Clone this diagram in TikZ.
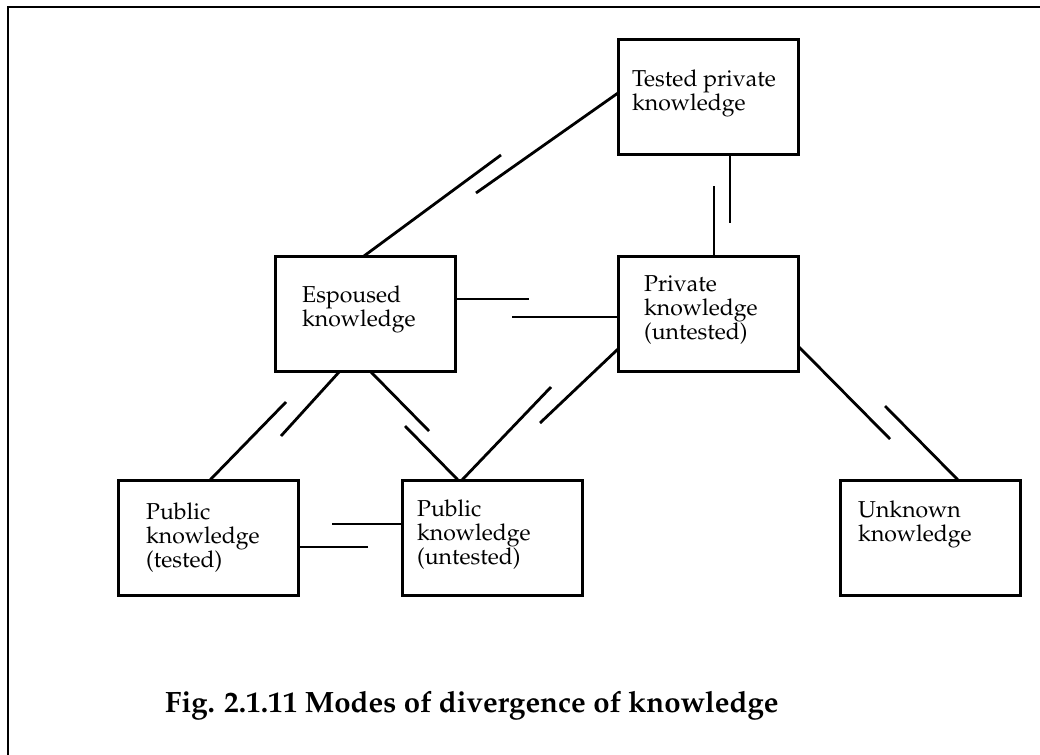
\documentclass[tikz,border=0pt]{standalone}
\usepackage[T1]{fontenc}
\renewcommand{\rmdefault}{ppl}
\begin{document}
\begin{tikzpicture}[x=1pt,y=-1pt,
  box/.style={draw,line width=3pt,rectangle,inner sep=0pt,outer sep=0pt,
    minimum width=180pt,minimum height=115pt,anchor=north west},
  txt/.style={anchor=base west,align=left,inner sep=0pt,
    font=\fontsize{23}{24}\selectfont},
  link/.style={line width=2.8pt},
  frame/.style={line width=2.2pt}]
\useasboundingbox (0,0) rectangle (1040,754);
\fill[white] (0,0) rectangle (1040,754);

% outer frame, open to the right and bottom
\coordinate (fb) at (8,760);
\coordinate (fc) at (8,7);
\coordinate (fr) at (1046,7);
\draw[frame] (fb) -- (fc) -- (fr);

% boxes
\node[box] (tp)   at (618,40)  {};
\node[box] (esp)  at (275,256) {};
\node[box] (pri)  at (618,256) {};
\node[box] (pubt) at (118,480) {};
\node[box] (pubu) at (402,480) {};
\node[box] (unk)  at (840,480) {};

% box texts (anchored at the baseline of the last line)
\node[txt] (tpt)   at (632,111) {Tested private\\knowledge};
\node[txt] (espt)  at (302,326) {Espoused\\knowledge};
\node[txt] (prit)  at (644,339) {Private\\knowledge\\(untested)};
\node[txt] (pubtt) at (146,567) {Public\\knowledge\\(tested)};
\node[txt] (pubut) at (417,564) {Public\\knowledge\\(untested)};
\node[txt] (unkt)  at (858,541) {Unknown\\knowledge};

% break points of the split connectors
\coordinate (c1a) at (476,193); \coordinate (c1b) at (501,155);
\coordinate (c2a) at (730,223); \coordinate (c2b) at (714,186);
\coordinate (c3a) at (529,299); \coordinate (c3b) at (512,317);
\coordinate (c4a) at (281,436); \coordinate (c4b) at (286,402);
\coordinate (c5a) at (429,431); \coordinate (c5b) at (405,426);
\coordinate (c6a) at (540,423); \coordinate (c6b) at (551,387);
\coordinate (c7a) at (890,439); \coordinate (c7b) at (885,406);
\coordinate (c8a) at (332,524); \coordinate (c8b) at (368,547);

% split connectors
\draw[link] ([yshift=4.5pt]tp.west) -- (c1a);
\draw[link] (c1b) -- ([xshift=-1pt]esp.north);
\draw[link] ([xshift=22pt]tp.south) -- (c2a);
\draw[link] (c2b) -- ([xshift=6pt]pri.north);
\draw[link] ([yshift=14.5pt]esp.east) -- (c3a);
\draw[link] (c3b) -- ([yshift=-3.5pt]pri.west);
\draw[link] ([xshift=-25pt]esp.south) -- (c4a);
\draw[link] (c4b) -- ([xshift=2pt]pubt.north);
\draw[link] ([xshift=5pt]esp.south) -- (c5a);
\draw[link] (c5b) -- ([xshift=-34pt]pubu.north);
\draw[link] ([yshift=-35.5pt]pri.west) -- (c6a);
\draw[link] (c6b) -- ([xshift=-30pt]pubu.north);
\draw[link] ([yshift=-32.5pt]pri.east) -- (c7a);
\draw[link] (c7b) -- ([xshift=28pt]unk.north);
\draw[link] ([yshift=13.5pt]pubu.west) -- (c8a);
\draw[link] (c8b) -- ([yshift=-9.5pt]pubt.east);

% caption
\node[anchor=base west,inner sep=0pt,font=\fontsize{29.4}{32}\selectfont\bfseries]
  (cap) at (165,712) {Fig. 2.1.11 Modes of divergence of knowledge};
\end{tikzpicture}
\end{document}
